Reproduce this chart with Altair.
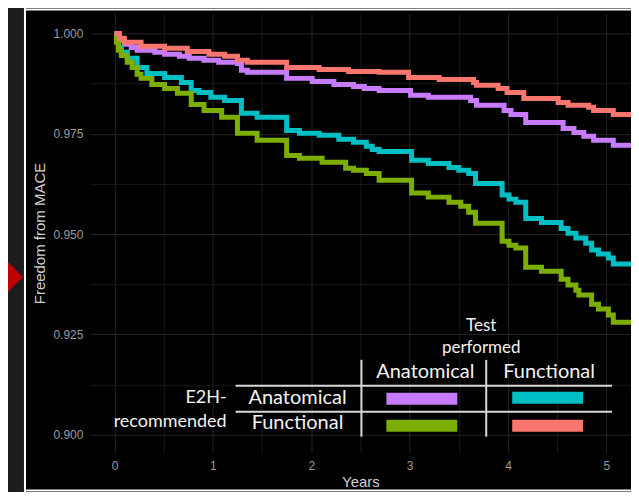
import altair as alt
import pandas as pd

# ---- data (Kaplan-Meier style step curves) ----
groups = ["Anatomical / Anatomical", "Anatomical / Functional",
          "Functional / Anatomical", "Functional / Functional"]
colors = ["#C77CFF", "#00BFC4", "#7CAE00", "#F8766D"]

# E2H Anatomical, test Anatomical (purple)
t_aa = [0, 0.05, 0.10, 0.17, 0.23, 0.41, 0.51, 0.66, 0.76, 0.91, 1.06, 1.25, 1.29, 1.35,
        1.75, 2.01, 2.23, 2.43, 2.54, 2.69, 3.01, 3.19, 3.62, 3.68, 3.96, 4.03, 4.18,
        4.56, 4.67, 4.77, 4.87, 5.07, 5.25]
s_aa = [1.0, 0.9983, 0.9973, 0.9965, 0.9958, 0.9953, 0.9948, 0.9943, 0.9938, 0.9933, 0.9928,
        0.9925, 0.9908, 0.9903, 0.9888, 0.9880, 0.9873, 0.9868, 0.9863, 0.9858, 0.9846,
        0.9841, 0.9833, 0.9821, 0.9808, 0.9798, 0.9778, 0.9763, 0.9753, 0.9744, 0.9734,
        0.9721, 0.9721]

# E2H Anatomical, test Functional (cyan)
t_af = [0, 0.02, 0.04, 0.07, 0.13, 0.23, 0.33, 0.51, 0.68, 0.78, 0.86, 0.98, 1.12, 1.29,
        1.45, 1.75, 1.88, 2.08, 2.28, 2.43, 2.56, 2.62, 2.69, 3.02, 3.19, 3.40, 3.50, 3.60,
        3.67, 3.94, 4.01, 4.08, 4.18, 4.34, 4.54, 4.61, 4.69, 4.79, 4.85, 4.92, 5.02, 5.07,
        5.25]
s_af = [0.9995, 0.9983, 0.9965, 0.9953, 0.9938, 0.9915, 0.9900, 0.9890, 0.9878, 0.9858,
        0.9853, 0.9841, 0.9833, 0.9801, 0.9791, 0.9758, 0.9751, 0.9746, 0.9736, 0.9729,
        0.9719, 0.9711, 0.9706, 0.9684, 0.9676, 0.9666, 0.9659, 0.9651, 0.9626, 0.9597,
        0.9587, 0.9579, 0.9539, 0.9529, 0.9514, 0.9502, 0.9490, 0.9477, 0.9460, 0.9450,
        0.9440, 0.9425, 0.9425]

# E2H Functional, test Anatomical (green)
t_fa = [0, 0.02, 0.04, 0.07, 0.13, 0.18, 0.23, 0.27, 0.38, 0.51, 0.64, 0.78, 0.91, 1.09,
        1.25, 1.45, 1.75, 1.88, 2.11, 2.35, 2.43, 2.56, 2.69, 3.02, 3.19, 3.40, 3.52, 3.60,
        3.67, 3.94, 4.01, 4.08, 4.18, 4.34, 4.54, 4.61, 4.69, 4.72, 4.85, 4.92, 5.02, 5.07,
        5.25]
s_fa = [0.9993, 0.9978, 0.9958, 0.9945, 0.9928, 0.9915, 0.9898, 0.9888, 0.9873, 0.9863,
        0.9851, 0.9823, 0.9808, 0.9791, 0.9751, 0.9734, 0.9696, 0.9689, 0.9679, 0.9664,
        0.9659, 0.9651, 0.9634, 0.9602, 0.9592, 0.9579, 0.9569, 0.9554, 0.9527, 0.9482,
        0.9472, 0.9465, 0.9417, 0.9407, 0.9387, 0.9373, 0.9360, 0.9348, 0.9325, 0.9313,
        0.9298, 0.9280, 0.9280]

# E2H Functional, test Functional (red)
t_ff = [0, 0.05, 0.10, 0.27, 0.51, 0.74, 0.96, 1.12, 1.25, 1.35, 1.75, 2.08, 2.38, 2.69,
        2.99, 3.30, 3.65, 3.68, 3.90, 3.99, 4.16, 4.51, 4.61, 4.82, 4.87, 5.07, 5.25]
s_ff = [1.0, 0.9988, 0.9978, 0.9968, 0.9963, 0.9955, 0.9948, 0.9943, 0.9933, 0.9928,
        0.9915, 0.9910, 0.9905, 0.9903, 0.9890, 0.9885, 0.9878, 0.9871, 0.9863, 0.9853,
        0.9838, 0.9828, 0.9821, 0.9816, 0.9808, 0.9798, 0.9798]

x_ticks = [0, 0.5, 1, 1.5, 2, 2.5, 3, 3.5, 4, 4.5, 5]
y_ticks = [0.9, 0.9125, 0.925, 0.9375, 0.95, 0.9625, 0.975, 0.9875, 1.0]

rows = []
for g, ts, ss in zip(groups, [t_aa, t_af, t_fa, t_ff], [s_aa, s_af, s_fa, s_ff]):
    for t, s in zip(ts, ss):
        rows.append({"group": g, "t": t, "s": s})
df = pd.DataFrame(rows)
one = pd.DataFrame({"k": [0]})

grid_major = "#242424"
grid_minor = "#191919"

lines = alt.Chart(df).mark_line(interpolate="step-after", strokeWidth=5).encode(
    x=alt.X("t:Q", scale=alt.Scale(domain=[-0.25, 5.25], nice=False, zero=False),
            axis=alt.Axis(values=x_ticks, title="Years",
                          labelExpr="datum.value % 1 === 0 ? format(datum.value, 'd') : ''",
                          gridColor={"condition": {"test": "datum.value % 1 === 0", "value": grid_major},
                                     "value": grid_minor},
                          labelPadding=8, titlePadding=3)),
    y=alt.Y("s:Q", scale=alt.Scale(domain=[0.8955, 1.005], nice=False, zero=False),
            axis=alt.Axis(values=y_ticks, title="Freedom from MACE",
                          labelExpr="(round(datum.value*1000) % 25 === 0) ? format(datum.value, '.3f') : ''",
                          gridColor={"condition": {"test": "round(datum.value*1000) % 25 === 0", "value": grid_major},
                                     "value": grid_minor},
                          labelPadding=7, titlePadding=5)),
    color=alt.Color("group:N", scale=alt.Scale(domain=groups, range=colors), legend=None),
    detail="group:N",
)

FONT = "Lato"
WHITE = "#f2f2f2"


def txt(s, x, y, size, align="center"):
    return alt.Chart(one).mark_text(text=s, font=FONT, fontSize=size, align=align,
                                    baseline="middle", color=WHITE).encode(
        x=alt.value(x), y=alt.value(y))


def hline(y, x1, x2, color="#d9d9d9", w=2):
    return alt.Chart(one).mark_rule(color=color, strokeWidth=w).encode(
        x=alt.value(x1), x2=alt.value(x2), y=alt.value(y))


def vline(x, y1, y2, color="#d9d9d9", w=2):
    return alt.Chart(one).mark_rule(color=color, strokeWidth=w).encode(
        x=alt.value(x), y=alt.value(y1), y2=alt.value(y2))


def swatch(x1, x2, y1, y2, color):
    return alt.Chart(one).mark_rect(color=color).encode(
        x=alt.value(x1), x2=alt.value(x2), y=alt.value(y1), y2=alt.value(y2))


# page decoration: grey strip, white frame, red arrow
strip = alt.Chart(one).mark_rect(color="#1d1d1d").encode(
    x=alt.value(-100), x2=alt.value(-65), y=alt.value(-20), y2=alt.value(500))
arrow = alt.Chart(one).mark_point(shape="M -1 -1 L 0 0 L -1 1 Z", filled=True, opacity=1,
                                  color="#c00000", size=12000, strokeWidth=0).encode(
    x=alt.value(-67), y=alt.value(264))
frame_l = vline(-65, -20, 500, color="#ffffff", w=2)
frame_t = hline(-4, -65, 700, color="#ffffff", w=2)
frame_b = hline(478, -65, 700, color="#ffffff", w=2)

legend = [
    txt("Test", 392, 313, 17),
    txt("performed", 392, 335, 17),
    txt("Anatomical", 336, 359, 20),
    txt("Functional", 460, 359, 20),
    txt("Anatomical", 208, 385, 20),
    txt("Functional", 208, 410, 20),
    txt("E2H-", 137, 385, 18, align="right"),
    txt("recommended", 137, 409, 18, align="right"),
    hline(373, 146, 523),
    hline(399, 146, 523),
    vline(272, 347, 424),
    vline(397, 347, 424),
    swatch(297, 368, 380, 392, colors[0]),
    swatch(423, 494, 379, 391, colors[1]),
    swatch(297, 368, 407, 419, colors[2]),
    swatch(423, 494, 407, 419, colors[3]),
]

chart = alt.layer(strip, arrow, frame_l, frame_t, frame_b, lines, *legend).properties(
    width=542, height=440,
    autosize=alt.AutoSizeParams(type="none"),
    padding={"left": 82, "top": 5, "right": 0, "bottom": 39},
    background="#000000",
).configure_view(strokeWidth=0, fill="#000000").configure_axis(
    domain=False, ticks=False,
    labelFont="Liberation Sans", labelFontSize=12, labelColor="#9b9b9b",
    titleFont="Liberation Sans", titleFontSize=15, titleColor="#cfcfcf",
    titleFontWeight="normal", gridWidth=1,
)

chart.save("out.html", embed_options={"renderer": "svg", "actions": False})
